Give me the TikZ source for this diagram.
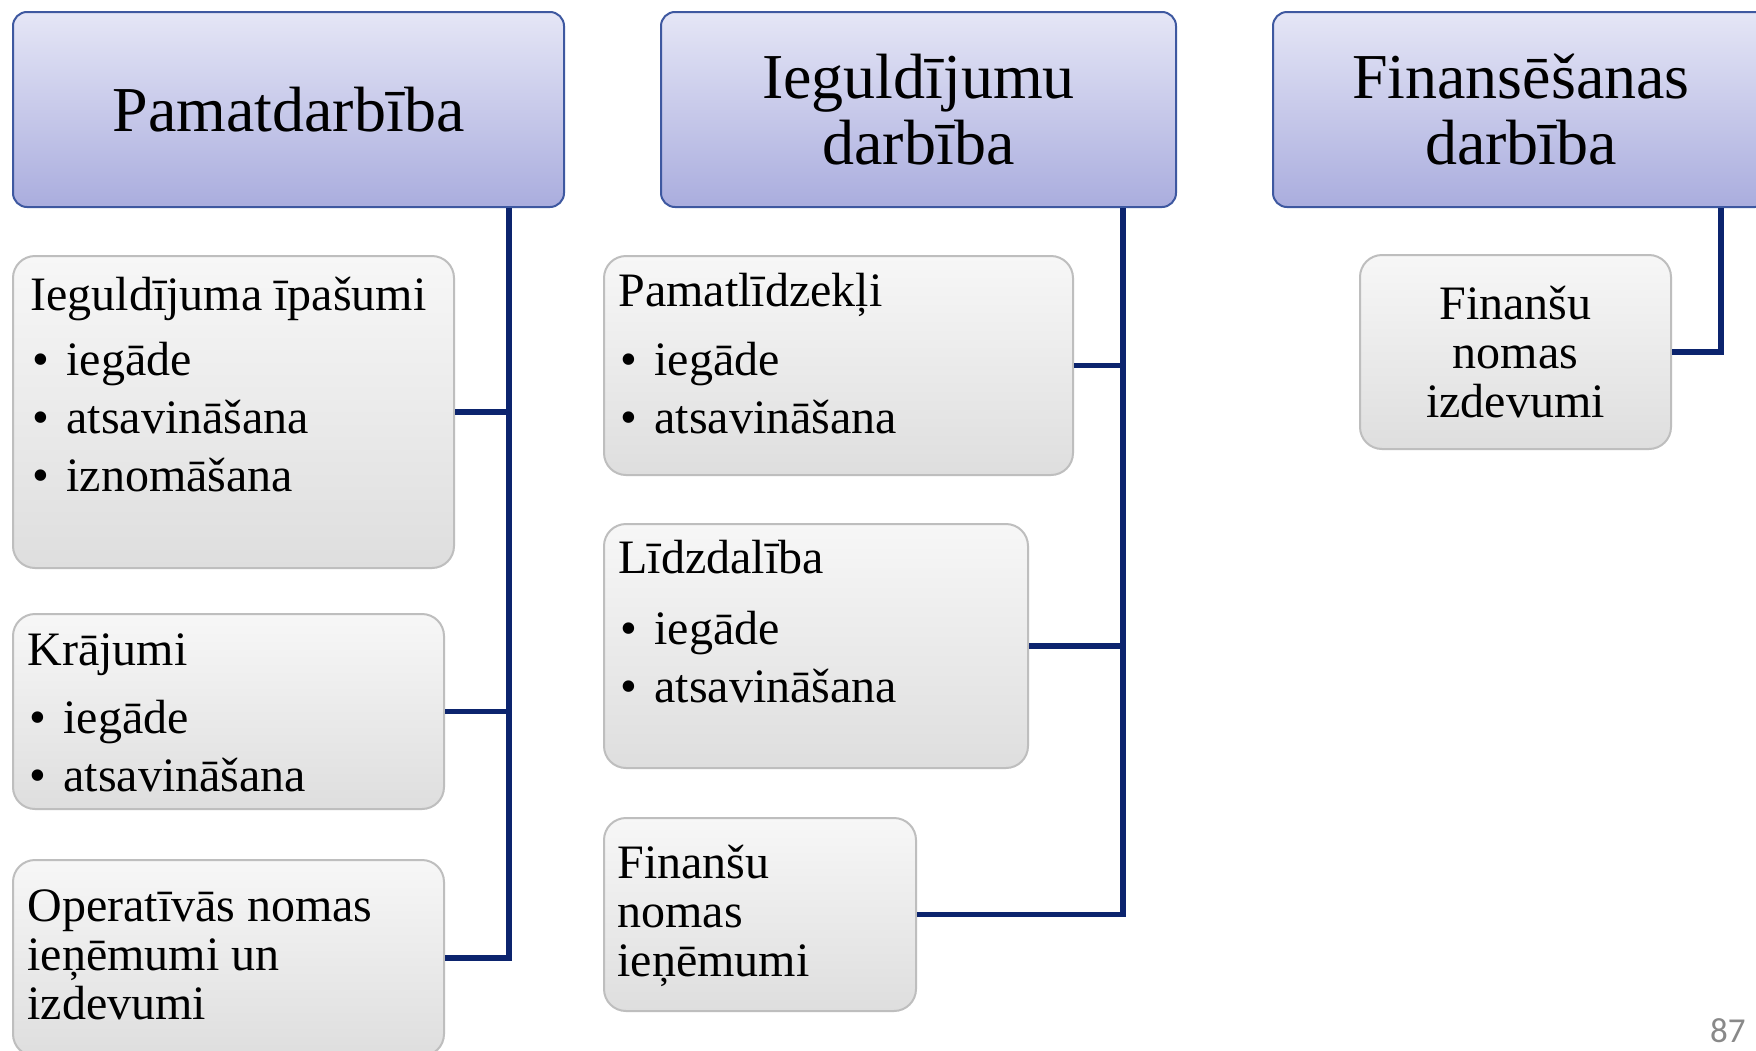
\documentclass[tikz,border=0pt]{standalone}
\usepackage{fontspec}
\setmainfont{Liberation Serif}
\newfontfamily\pagenumfont{Carlito}
\definecolor{hdrborder}{RGB}{62,88,160}
\definecolor{hdrtop}{RGB}{229,230,246}
\definecolor{hdrbot}{RGB}{170,173,222}
\definecolor{kidborder}{RGB}{190,190,190}
\definecolor{kidtop}{RGB}{247,247,247}
\definecolor{kidbot}{RGB}{222,222,222}
\definecolor{navy}{RGB}{12,36,110}
\definecolor{pagegray}{RGB}{137,137,137}
\newcommand\bulitem{\makebox[18pt][l]{\hspace{1pt}•}}
\begin{document}
\begin{tikzpicture}[x=0.5pt,y=-0.5pt,
  hdr/.style={draw=hdrborder, line width=1pt, rounded corners=7pt, top color=hdrtop, bottom color=hdrbot,
    font=\fontsize{32}{33}\selectfont, align=center, inner sep=0pt},
  kid/.style={draw=kidborder, line width=1pt, rounded corners=11pt, top color=kidtop, bottom color=kidbot, inner sep=0pt},
  kidtext/.style={font=\fontsize{24}{24.5}\selectfont, inner sep=0pt, anchor=base west},
  conn/.style={draw=navy, line width=2.6pt}]
\useasboundingbox (0,0) rectangle (1756,1050);
\clip (0,0) rectangle (1756,1050);
\fill[white] (0,0) rectangle (1756,1050);
% headers
\node[hdr, minimum width=275.5pt, minimum height=97.5pt] (h1) at (288.5,109.5) {Pamatdarbība};
\node[hdr, minimum width=257.5pt, minimum height=97.5pt] (h2) at (918.5,109.5) {Ieguldījumu\\darbība};
\node[hdr, minimum width=248pt, minimum height=97.5pt] (h3) at (1521,109.5) {Finansēšanas\\darbība};
% left column
\node[kid, minimum width=220.5pt, minimum height=156pt] (A) at (233.5,412) {};
\node[kidtext] (At) at (30,310) {\vtop{\hbox{Ieguldījuma īpašumi}\vskip 8pt\hbox{\bulitem iegāde}\vskip 4.5pt\hbox{\bulitem atsavināšana}\vskip 4.5pt\hbox{\bulitem iznomāšana}}};
\node[kid, minimum width=215.5pt, minimum height=97.5pt] (B) at (228.5,711.5) {};
\node[kidtext] (Bt) at (27,665) {\vtop{\hbox{Krājumi}\vskip 9.5pt\hbox{\bulitem iegāde}\vskip 4.5pt\hbox{\bulitem atsavināšana}}};
\node[kid, minimum width=215.5pt, minimum height=98pt] (C) at (228.5,958) {};
\node[kidtext] (Ct) at (27,921) {\vtop{\hbox{Operatīvās nomas}\hbox{ieņēmumi un}\hbox{izdevumi}}};
% middle column
\node[kid, minimum width=234.5pt, minimum height=109.5pt] (D) at (838.5,365.5) {};
\node[kidtext] (Dt) at (618,306) {\vtop{\hbox{Pamatlīdzekļi}\vskip 10pt\hbox{\bulitem iegāde}\vskip 4.5pt\hbox{\bulitem atsavināšana}}};
\node[kid, minimum width=212pt, minimum height=122pt] (E) at (816,646) {};
\node[kidtext] (Et) at (618,573) {\vtop{\hbox{Līdzdalība}\vskip 11pt\hbox{\bulitem iegāde}\vskip 4.5pt\hbox{\bulitem atsavināšana}}};
\node[kid, minimum width=156pt, minimum height=96.5pt] (F) at (760,914.5) {};
\node[kidtext] (Ft) at (617,878) {\vtop{\hbox{Finanšu}\hbox{nomas}\hbox{ieņēmumi}}};
% right column
\node[kid, minimum width=155.5pt, minimum height=97pt, font=\fontsize{24}{24.5}\selectfont, align=center] (G) at (1515.5,352) {Finanšu\\nomas\\izdevumi};
% trunks
\coordinate (t1) at (509,0);
\coordinate (t2) at (1123,0);
\coordinate (t3) at (1721,0);
\draw[conn] (h1.south -| t1) |- (C.east);
\draw[conn] (A.east) -- (A.east -| t1);
\draw[conn] (B.east) -- (B.east -| t1);
\draw[conn] (h2.south -| t2) |- (F.east);
\draw[conn] (D.east) -- (D.east -| t2);
\draw[conn] (E.east) -- (E.east -| t2);
\draw[conn] (h3.south -| t3) |- (G.east);
% page number
\node[font=\pagenumfont\fontsize{17.5}{18}\selectfont, text=pagegray, anchor=base east, inner sep=0pt] (pg) at (1746,1042) {87};
\end{tikzpicture}
\end{document}
